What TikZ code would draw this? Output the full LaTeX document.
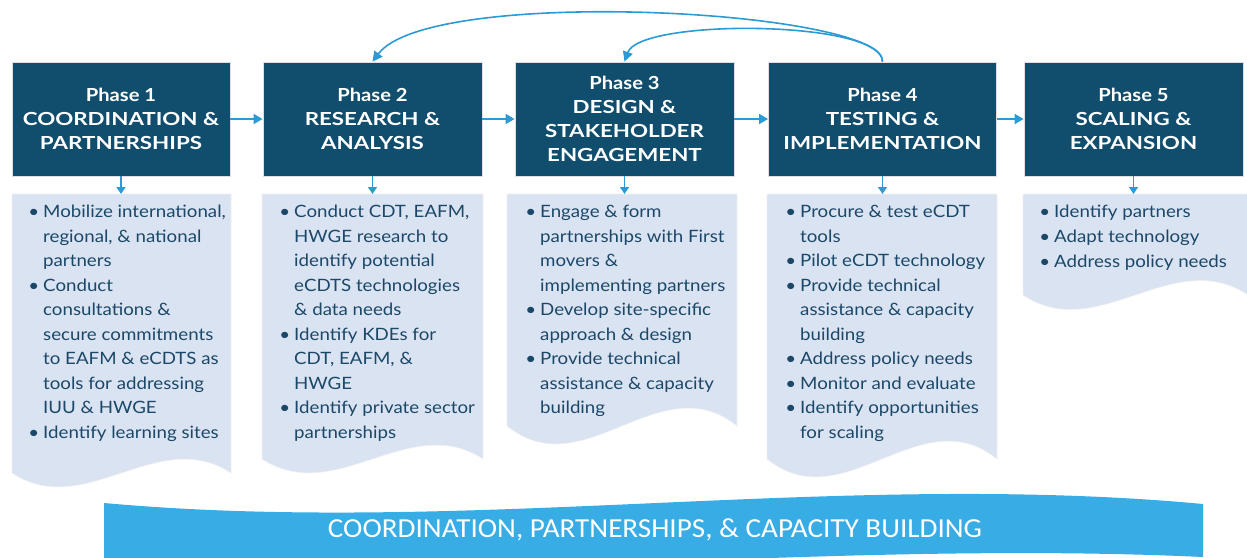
\documentclass[tikz,border=0pt]{standalone}
\usepackage{fontspec}
\setmainfont{Lato}[FakeStretch=1.1]
\newfontfamily\headfont{Lato}[FakeStretch=1.24]
\newfontfamily\phasefont{Lato}[FakeStretch=1.12]
\newfontfamily\bannerfont{Carlito}[FakeStretch=1.06]
\usetikzlibrary{arrows.meta}
\definecolor{phasebg}{HTML}{114E6E}
\definecolor{listbg}{HTML}{DAE3F2}
\definecolor{listtx}{HTML}{1B4868}
\definecolor{arrowc}{HTML}{2C9AD5}
\definecolor{bannerc}{HTML}{37ACE5}
\newcommand\bu{\llap{\textbullet\hspace{4pt}}}
\newcommand\ph[1]{{\phasefont\bfseries #1}}
\begin{document}
\begin{tikzpicture}[x=1pt,y=-1pt,
 phase/.style={fill=phasebg, draw=gray!25, line width=0.8pt, text=white,
   font=\headfont\fontsize{18}{24}\selectfont\bfseries, align=center,
   minimum height=114pt, inner sep=0pt},
 listshape/.style={fill=listbg, draw=gray!12, line width=0.6pt},
 items/.style={anchor=north west, align=left, inner sep=0pt, text=listtx,
   font=\fontsize{17}{24.5}\selectfont},
 flow/.style={draw=arrowc, line width=1.8pt, -{Triangle[length=9pt,width=10pt]}},
 down/.style={draw=arrowc, line width=1.4pt, -{Triangle[length=7pt,width=9pt]}},
 loopback/.style={draw=arrowc, line width=1.6pt, -{Triangle[length=10pt,width=10pt]}}
]
\useasboundingbox (0,0) rectangle (1247,557);

% phase boxes
\node[phase, minimum width=218pt] (b1) at (121,119) {\ph{Phase 1}\\COORDINATION \&\\PARTNERSHIPS};
\node[phase, minimum width=219pt] (b2) at (372.5,119) {\ph{Phase 2}\\RESEARCH \&\\ANALYSIS};
\node[phase, minimum width=219pt] (b3) at (624.5,119) {\ph{Phase 3}\\DESIGN \&\\STAKEHOLDER\\ENGAGEMENT};
\node[phase, minimum width=228pt] (b4) at (882.5,119) {\ph{Phase 4}\\TESTING \&\\IMPLEMENTATION};
\node[phase, minimum width=219pt] (b5) at (1133.5,119) {\ph{Phase 5}\\SCALING \&\\EXPANSION};

% list shapes
\path[listshape] (12,194) -- (231,194) -- (231,473) .. controls (158,425) and (85,521) .. (12,473) -- cycle;
\path[listshape] (262,194) -- (483,194) -- (483,459) .. controls (409,411) and (336,507) .. (262,459) -- cycle;
\path[listshape] (507,194) -- (737,194) -- (737,426) .. controls (660,364) and (584,488) .. (507,426) -- cycle;
\path[listshape] (767,194) -- (997,194) -- (997,459) .. controls (920,397) and (844,521) .. (767,459) -- cycle;
\path[listshape] (1023,194) -- (1248,194) -- (1248,295) .. controls (1173,245) and (1098,345) .. (1023,295) -- cycle;

\coordinate (l1) at (121,194);
\coordinate (l2) at (372.5,194);
\coordinate (l3) at (624.5,194);
\coordinate (l4) at (882.5,194);
\coordinate (l5) at (1133.5,194);

% list texts
\node[items] (t1) at (43,205) {\bu Mobilize international,\\ regional, \& national\\ partners\\ \bu Conduct\\ consultations \&\\ secure commitments\\ to EAFM \& eCDTS as\\ tools for addressing\\ IUU \& HWGE\\ \bu Identify learning sites};
\node[items] (t2) at (294,205) {\bu Conduct CDT, EAFM,\\ HWGE research to\\ identify potential\\ eCDTS technologies\\ \& data needs\\ \bu Identify KDEs for\\ CDT, EAFM, \&\\ HWGE\\ \bu Identify private sector\\ partnerships};
\node[items] (t3) at (540,205) {\bu Engage \& form\\ partnerships with First\\ movers \&\\ implementing partners\\ \bu Develop site-specific\\ approach \& design\\ \bu Provide technical\\ assistance \& capacity\\ building};
\node[items] (t4) at (800,205) {\bu Procure \& test eCDT\\ tools\\ \bu Pilot eCDT technology\\ \bu Provide technical\\ assistance \& capacity\\ building\\ \bu Address policy needs\\ \bu Monitor and evaluate\\ \bu Identify opportunities\\ for scaling};
\node[items, font=\fontsize{17}{25}\selectfont] (t5) at (1054,205) {\bu Identify partners\\ \bu Adapt technology\\ \bu Address policy needs};

% banner
\path[fill=bannerc] (104,503) .. controls (470,536) and (837,470) .. (1203,504) -- (1203,557) .. controls (837,540) and (470,585) .. (104,565) -- cycle;
\node[text=white, font=\bannerfont\fontsize{27.5}{30}\selectfont, inner sep=0pt] (ban) at (655,530) {COORDINATION, PARTNERSHIPS, \& CAPACITY BUILDING};

% arrows
\draw[flow] (b1) -- (b2);
\draw[flow] (b2) -- (b3);
\draw[flow] (b3) -- (b4);
\draw[flow] (b4) -- (b5);
\draw[down] (b1.south) -- (l1);
\draw[down] (b2.south) -- (l2);
\draw[down] (b3.south) -- (l3);
\draw[down] (b4.south) -- (l4);
\draw[down] (b5.south) -- (l5);
\draw[loopback] (b4.north) .. controls (885,10) and (430,-15) .. (b2.north);
\draw[loopback] (b4.north) .. controls (883,20) and (640,18) .. (b3.north);
\end{tikzpicture}
\end{document}
